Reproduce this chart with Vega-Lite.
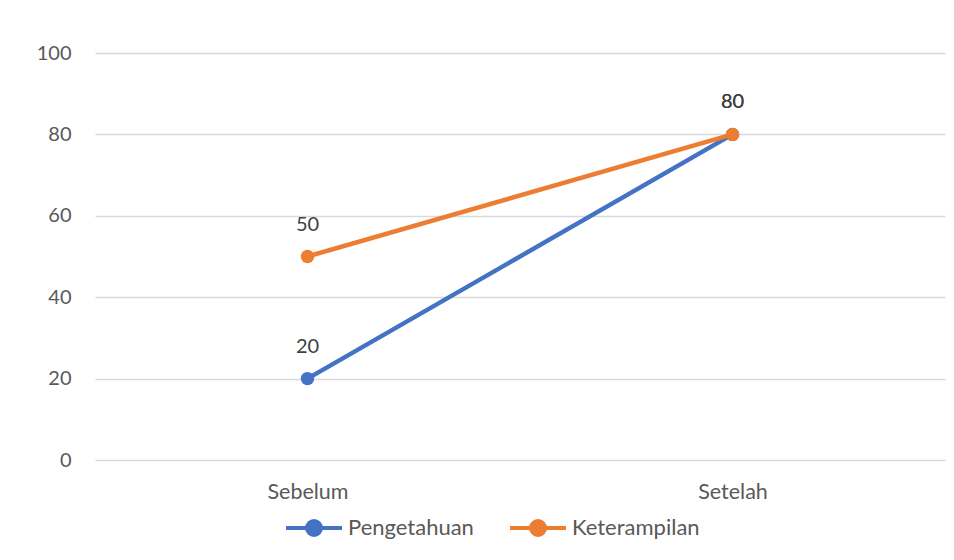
{
  "$schema": "https://vega.github.io/schema/vega-lite/v6.json",
  "width": 850,
  "height": 407,
  "autosize": {"type": "none"},
  "padding": {"left": 95, "top": 53, "right": 9, "bottom": 100},
  "background": "white",
  "config": {
    "view": {"stroke": null},
    "font": "Lato",
    "axis": {"labelFont": "Lato", "labelColor": "#595959", "labelFontSize": 20},
    "legend": {"labelFont": "Lato", "labelColor": "#595959", "labelFontSize": 22}
  },
  "data": {
    "values": [
      {"waktu": "Sebelum", "seri": "Pengetahuan", "nilai": 20},
      {"waktu": "Setelah", "seri": "Pengetahuan", "nilai": 80},
      {"waktu": "Sebelum", "seri": "Keterampilan", "nilai": 50},
      {"waktu": "Setelah", "seri": "Keterampilan", "nilai": 80}
    ]
  },
  "encoding": {
    "x": {
      "field": "waktu", "type": "nominal", "sort": ["Sebelum", "Setelah"], "title": null,
      "axis": {"domain": false, "ticks": false, "labelAngle": 0, "labelPadding": 21, "grid": false, "labelFontSize": 21.5}
    },
    "y": {
      "field": "nilai", "type": "quantitative", "title": null,
      "scale": {"domain": [0, 100], "nice": false},
      "axis": {"values": [0, 20, 40, 60, 80, 100], "domain": false, "ticks": false, "labelPadding": 24,
               "gridColor": "#d9d9d9", "gridWidth": 1.5}
    },
    "color": {
      "field": "seri", "type": "nominal", "title": null,
      "scale": {"domain": ["Pengetahuan", "Keterampilan"], "range": ["#4472C4", "#ED7D31"]},
      "legend": {
        "orient": "none", "direction": "horizontal", "legendX": 189, "legendY": 445,
        "symbolType": "M-1,0L1,0M-0.25,0A0.25,0.25 0 1,0 0.25,0A0.25,0.25 0 1,0 -0.25,0Z",
        "symbolSize": 3136, "symbolStrokeWidth": 4, "columnPadding": 28, "labelOffset": 4
      }
    }
  },
  "layer": [
    {"mark": {"type": "line", "strokeWidth": 4.5, "strokeCap": "round"}},
    {"mark": {"type": "point", "filled": true, "size": 180, "opacity": 1}},
    {"mark": {"type": "text", "dy": -32, "fontSize": 20, "font": "Lato", "color": "#404040"},
     "encoding": {"text": {"field": "nilai", "type": "quantitative"}, "color": {"value": "#404040"}}}
  ]
}
